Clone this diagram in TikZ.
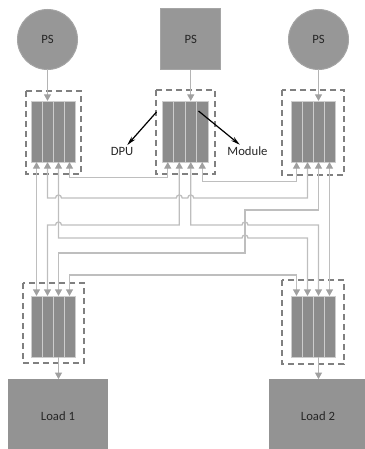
\documentclass[tikz,border=0pt]{standalone}
\usepackage{fontspec}
\setmainfont{Carlito}
\usetikzlibrary{arrows.meta}

\tikzset{every picture/.style={line width=0.75pt},
  psnode/.style={fill={rgb, 255:red, 151; green, 151; blue, 151 }, draw={rgb, 255:red, 165; green, 165; blue, 165 }, inner sep=0pt, outer sep=0pt, font=\fontsize{9.5}{11}\selectfont, text={rgb, 255:red, 38; green, 38; blue, 38 }},
  strip/.style={fill={rgb, 255:red, 140; green, 140; blue, 140 }, draw={rgb, 255:red, 205; green, 205; blue, 205 }, line width=0.7pt, minimum width=8.25pt, minimum height=45.75pt, inner sep=0pt, outer sep=0pt},
  loadbox/.style={fill={rgb, 255:red, 147; green, 147; blue, 147 }, inner sep=0pt, outer sep=0pt, font=\fontsize{9.5}{11}\selectfont, text={rgb, 255:red, 38; green, 38; blue, 38 }},
  grpbox/.style={draw={rgb, 255:red, 128; green, 128; blue, 128 }, line width=1pt, dash pattern={on 4.5pt off 3pt}},
  wire/.style={draw={rgb, 255:red, 190; green, 190; blue, 190 }, line width=1pt, {Triangle[length=5pt,width=5.2pt,color={rgb, 255:red, 160; green, 160; blue, 160 }]}-{Triangle[length=5pt,width=5.2pt,color={rgb, 255:red, 160; green, 160; blue, 160 }]}},
  feed/.style={draw={rgb, 255:red, 180; green, 180; blue, 180 }, line width=1pt, -{Triangle[length=5pt,width=5.2pt,color={rgb, 255:red, 160; green, 160; blue, 160 }]}},
  callout/.style={line width=0.9pt, -{Stealth[length=7pt,width=3.5pt]}},
  lbl/.style={inner sep=1pt, font=\fontsize{9.5}{11}\selectfont, text={rgb, 255:red, 38; green, 38; blue, 38 }}
}

\begin{document}
\begin{tikzpicture}[x=0.75pt,y=0.75pt,yscale=-1,xscale=1]
\useasboundingbox (0,0) rectangle (364,449);

%Shape: Circle
\node[psnode, circle, minimum size=45pt] (psl) at (47.5,39.5) {PS};
%Shape: Square
\node[psnode, rectangle, minimum width=45pt, minimum height=45.75pt] (psm) at (190.75,39.5) {PS};
%Shape: Circle
\node[psnode, circle, minimum size=45pt] (psr) at (318.5,39.5) {PS};

%Shape: Rectangle
\draw[grpbox] (26,91) rectangle (81,174);
%Shape: Rectangle
\draw[grpbox] (156,90) rectangle (215,174);
%Shape: Rectangle
\draw[grpbox] (282,90) rectangle (344,175);
%Shape: Rectangle
\draw[grpbox] (23,283) rectangle (84,363);
%Shape: Rectangle
\draw[grpbox] (282,280) rectangle (344,364);

%Shape: Rectangle
\node[strip] (tl1) at (36.5,131.5) {};
\node[strip] (tl2) at (47.5,131.5) {};
\node[strip] (tl3) at (58.5,131.5) {};
\node[strip] (tl4) at (69.5,131.5) {};
%Shape: Rectangle
\node[strip, minimum width=8.625pt] (tm1) at (167.75,131.5) {};
\node[strip, minimum width=8.625pt] (tm2) at (179.25,131.5) {};
\node[strip, minimum width=8.625pt] (tm3) at (190.75,131.5) {};
\node[strip, minimum width=8.625pt] (tm4) at (202.25,131.5) {};
%Shape: Rectangle
\node[strip] (tr1) at (296.5,131.5) {};
\node[strip] (tr2) at (307.5,131.5) {};
\node[strip] (tr3) at (318.5,131.5) {};
\node[strip] (tr4) at (329.5,131.5) {};
%Shape: Rectangle
\node[strip] (bl1) at (36.5,326.5) {};
\node[strip] (bl2) at (47.5,326.5) {};
\node[strip] (bl3) at (58.5,326.5) {};
\node[strip] (bl4) at (69.5,326.5) {};
%Shape: Rectangle
\node[strip] (br1) at (296.5,326.5) {};
\node[strip] (br2) at (307.5,326.5) {};
\node[strip] (br3) at (318.5,326.5) {};
\node[strip] (br4) at (329.5,326.5) {};

%Shape: Rectangle
\node[loadbox, minimum width=75pt, minimum height=54.75pt] (load1) at (58,415.7) {Load 1};
%Shape: Rectangle
\node[loadbox, minimum width=73.5pt, minimum height=54.75pt] (load2) at (318,415.7) {Load 2};

%Straight Lines
\draw[feed] (psl) -- (tl2.north);
\draw[feed] (psm) -- (tm3.north);
\draw[feed] (psr) -- (tr3.north);
\draw[feed] (bl3.south) -- (bl3.south |- load1.north);
\draw[feed] (br3.south) -- (br3.south |- load2.north);

%Straight Lines
\draw[wire] (tl1.south) -- (bl1.north);
\draw[wire] (tr4.south) -- (br4.north);
\draw[wire] (tl4.south) |- (120,177.5) -| (tm1.south);
\draw[wire] (tm4.south) |- (250,181.5) -| (tr1.south);
\draw[wire] (tl2.south) |- (55.5,198) arc (180:360:3) -- (176.25,198) arc (180:360:3) -- (187.75,198) arc (180:360:3) -| (tr2.south);
\draw[wire] (tr3.south) |- (245,210) |- (100,253) -| (bl3.north);
\draw[wire] (bl2.north) |- (55.5,225) arc (180:360:3) -| (tm2.south);
\draw[wire] (tm3.south) |- (242,225) arc (180:360:3) -| (br3.north);
\draw[wire] (tl3.south) |- (242,238) arc (180:360:3) -| (br2.north);
\draw[wire] (bl4.north) |- (200,275) -| (br1.north);

% Text Node
\coordinate (dpuptr) at (156.5,112);
\coordinate (modptr) at (198.5,111);
\node[lbl] (dpu) at (122,151) {DPU};
\node[lbl] (module) at (247.5,151) {Module};
\draw[callout] (dpuptr) -- (dpu);
\draw[callout] (modptr) -- (module);

\end{tikzpicture}
\end{document}
